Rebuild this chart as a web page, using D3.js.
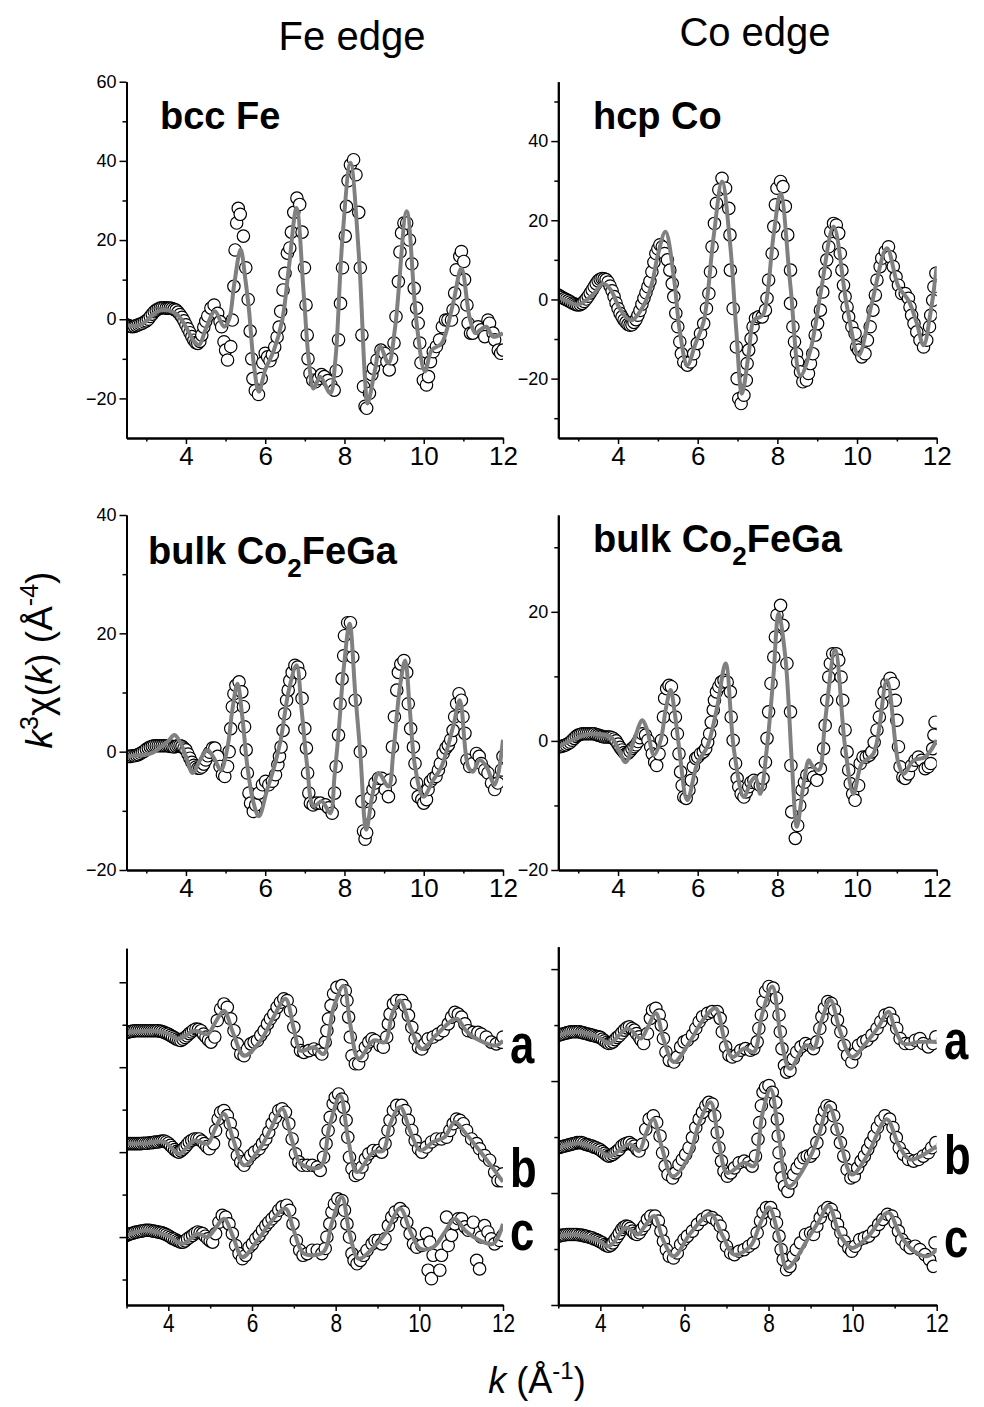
<!DOCTYPE html>
<html>
<head>
<meta charset="utf-8">
<script src="https://cdnjs.cloudflare.com/ajax/libs/d3/7.8.5/d3.min.js"></script>
<style>
  body { margin: 0; background: #fff; }
  svg text { font-family: 'Liberation Sans', Arial, sans-serif; fill: #000; }
</style>
</head>
<body>
<div id="canvas"></div>
<script>
// ---- tick values ----
var xMajorTicks = [4, 6, 8, 10, 12]
var xMinorTicks = [3, 5, 7, 9, 11]
var yMajorBcc = [-20, 0, 20, 40, 60]
var yMinorBcc = [-10, 10, 30, 50]
var yMajorHcp = [-20, 0, 20, 40]
var yMinorHcp = [-30, -10, 10, 30, 50]
var yMajorBulkFe = [-20, 0, 20, 40]
var yMinorBulkFe = [-10, 10, 30]
var yMajorBulkCo = [-20, 0, 20]
var yMinorBulkCo = [-10, 10, 30]
var yMajorStack = [0, 20, 40, 60]
var yMinorStackFe = [-10, 10, 30, 50]
var yMinorStackCo = [10, 30, 50]

// ---- Fe edge: bcc Fe (k, k3chi) ----
var bccFeData = [[2.50,-1.4],[2.55,-1.6],[2.60,-1.8],[2.65,-1.9],[2.70,-1.8],[2.75,-1.6],[2.80,-1.4],[2.85,-1.2],[2.90,-1.0],[2.95,-0.7],[3.00,-0.4],[3.05,0.0],[3.10,0.7],[3.15,1.3],[3.20,1.9],[3.25,2.3],[3.30,2.6],[3.35,2.8],[3.40,2.9],[3.45,2.9],[3.50,2.8],[3.55,2.8],[3.60,2.8],[3.65,2.7],[3.70,2.5],[3.75,2.3],[3.80,1.8],[3.85,1.2],[3.90,0.5],[3.95,-0.4],[4.00,-1.4],[4.05,-2.4],[4.10,-3.4],[4.15,-4.4],[4.20,-5.3],[4.25,-5.9],[4.30,-6.1],[4.35,-5.6],[4.40,-4.0],[4.45,-2.0],[4.50,-0.5],[4.55,0.8],[4.63,2.8],[4.71,3.6],[4.80,1.5],[4.86,-0.6],[4.90,-1.9],[4.96,-5.7],[5.00,-7.8],[5.05,-10.3],[5.13,-6.9],[5.17,-0.2],[5.21,8.3],[5.24,17.5],[5.28,24.3],[5.32,28.0],[5.37,26.5],[5.45,21.0],[5.51,13.0],[5.57,5.0],[5.62,-3.0],[5.66,-10.0],[5.69,-15.0],[5.75,-18.0],[5.83,-19.0],[5.90,-15.0],[5.94,-11.0],[6.00,-8.6],[6.06,-9.5],[6.12,-10.5],[6.18,-9.0],[6.24,-7.0],[6.30,-4.5],[6.35,-2.0],[6.39,2.0],[6.45,7.4],[6.50,11.6],[6.56,16.7],[6.62,18.0],[6.66,22.0],[6.72,27.0],[6.80,30.6],[6.87,29.0],[6.93,22.0],[6.99,13.0],[7.03,3.6],[7.06,-4.0],[7.08,-10.0],[7.13,-13.7],[7.20,-15.4],[7.27,-15.8],[7.35,-15.0],[7.42,-14.0],[7.49,-14.5],[7.58,-15.5],[7.66,-16.6],[7.74,-17.9],[7.79,-13.0],[7.85,-5.2],[7.90,4.0],[7.95,13.0],[8.02,21.0],[8.05,28.5],[8.09,35.0],[8.15,39.0],[8.23,40.3],[8.29,36.5],[8.36,27.0],[8.40,13.0],[8.44,-4.0],[8.48,-17.0],[8.52,-22.0],[8.56,-22.5],[8.63,-18.7],[8.69,-14.0],[8.73,-12.4],[8.82,-10.3],[8.92,-7.8],[9.01,-8.6],[9.07,-10.7],[9.13,-12.8],[9.19,-10.0],[9.25,-6.0],[9.30,0.7],[9.36,9.5],[9.40,17.0],[9.44,21.8],[9.50,24.3],[9.57,24.3],[9.64,20.0],[9.70,14.0],[9.76,7.8],[9.82,2.8],[9.86,-1.0],[9.90,-6.0],[9.93,-11.0],[9.99,-15.4],[10.07,-16.6],[10.12,-14.5],[10.17,-10.7],[10.24,-8.2],[10.32,-6.9],[10.40,-5.2],[10.47,-1.9],[10.55,-0.2],[10.61,-0.2],[10.70,-0.2],[10.74,2.4],[10.78,6.6],[10.82,12.5],[10.91,15.9],[10.95,17.1],[11.01,14.6],[11.03,10.0],[11.09,3.6],[11.12,-1.0],[11.18,-3.5],[11.24,-3.5],[11.37,-1.9],[11.45,-2.7],[11.54,-4.4],[11.62,-0.2],[11.66,-1.0],[11.75,-3.5],[11.79,-5.2],[11.88,-7.8],[11.94,-8.6],[12.00,-7.8]]
var bccFeFit = [[2.50,-1.5],[2.80,-1.6],[3.00,-0.5],[3.20,1.5],[3.40,2.3],[3.60,2.1],[3.80,1.0],[4.00,-2.0],[4.20,-5.5],[4.33,-6.5],[4.50,-2.5],[4.73,2.0],[4.96,-1.9],[5.09,0.0],[5.22,9.0],[5.38,17.6],[5.50,10.0],[5.59,2.4],[5.72,-12.0],[5.84,-18.3],[6.00,-12.8],[6.22,-7.8],[6.43,-0.2],[6.60,13.3],[6.79,28.1],[6.97,6.6],[7.10,-10.3],[7.22,-17.5],[7.39,-14.5],[7.64,-18.7],[7.77,-10.3],[7.94,19.2],[8.15,39.5],[8.36,16.7],[8.52,-15.4],[8.58,-21.3],[8.77,-12.8],[8.90,-6.9],[9.11,-11.1],[9.28,-1.9],[9.57,27.3],[9.82,-1.0],[10.03,-13.2],[10.20,-7.8],[10.45,-6.1],[10.74,4.0],[10.95,12.9],[11.16,0.3],[11.30,-3.5],[11.45,-2.5],[11.58,-1.9],[11.75,-4.4],[12.00,-3.5]]

// ---- Co edge: hcp Co ----
var hcpCoData = [[2.50,1.1],[2.55,0.8],[2.60,0.5],[2.65,0.2],[2.70,0.0],[2.75,-0.3],[2.80,-0.6],[2.85,-0.9],[2.90,-1.1],[2.95,-1.3],[3.00,-1.4],[3.05,-1.3],[3.10,-1.0],[3.15,-0.5],[3.20,0.1],[3.25,0.8],[3.30,1.6],[3.35,2.4],[3.40,3.2],[3.45,4.0],[3.50,4.7],[3.55,5.1],[3.60,5.3],[3.65,5.2],[3.70,5.0],[3.75,4.4],[3.80,3.4],[3.85,2.2],[3.90,0.7],[3.95,-0.9],[4.00,-2.3],[4.05,-3.5],[4.10,-4.4],[4.15,-5.2],[4.20,-5.8],[4.25,-6.3],[4.30,-6.5],[4.35,-6.4],[4.40,-5.8],[4.45,-5.1],[4.50,-4.0],[4.55,-2.8],[4.60,-1.2],[4.65,0.3],[4.70,1.7],[4.75,3.2],[4.80,4.6],[4.85,7.0],[4.90,9.4],[4.95,11.6],[5.00,12.8],[5.05,13.8],[5.11,13.3],[5.17,11.6],[5.24,10.0],[5.30,7.4],[5.36,4.0],[5.40,0.7],[5.45,-3.5],[5.50,-6.9],[5.55,-10.7],[5.59,-13.7],[5.65,-15.8],[5.74,-16.6],[5.82,-15.8],[5.90,-13.7],[5.99,-11.1],[6.07,-8.6],[6.15,-6.1],[6.22,-2.3],[6.28,1.5],[6.32,7.0],[6.36,13.3],[6.42,19.2],[6.47,24.3],[6.53,27.7],[6.61,30.6],[6.70,28.1],[6.78,23.0],[6.81,16.3],[6.82,7.4],[6.89,-2.3],[6.97,-12.0],[6.99,-20.0],[7.03,-25.1],[7.09,-26.3],[7.16,-24.2],[7.22,-20.4],[7.24,-16.2],[7.28,-12.8],[7.34,-9.9],[7.39,-6.9],[7.45,-4.8],[7.53,-4.4],[7.62,-4.4],[7.70,-2.7],[7.74,0.3],[7.78,4.9],[7.87,11.6],[7.91,18.4],[7.95,23.9],[7.99,28.1],[8.08,29.8],[8.14,28.5],[8.20,23.5],[8.26,16.3],[8.33,7.4],[8.33,-1.0],[8.39,-6.9],[8.43,-10.7],[8.48,-13.7],[8.51,-15.8],[8.58,-18.3],[8.64,-20.8],[8.73,-20.4],[8.78,-18.7],[8.83,-16.2],[8.89,-13.7],[8.95,-9.0],[9.01,-6.1],[9.08,-2.7],[9.14,1.9],[9.20,6.6],[9.24,10.0],[9.29,13.3],[9.34,17.1],[9.41,19.2],[9.48,18.8],[9.54,16.7],[9.58,11.6],[9.62,7.4],[9.66,3.6],[9.70,0.7],[9.75,-1.9],[9.79,-4.4],[9.87,-6.9],[9.95,-8.6],[9.99,-12.0],[10.04,-12.8],[10.12,-14.5],[10.20,-13.7],[10.26,-10.3],[10.33,-6.9],[10.40,-2.7],[10.46,1.1],[10.50,4.9],[10.58,8.3],[10.62,10.4],[10.71,12.1],[10.79,13.3],[10.83,10.8],[10.91,8.3],[10.98,5.7],[11.04,3.6],[11.12,1.5],[11.21,1.5],[11.29,0.3],[11.33,-1.9],[11.37,-4.0],[11.43,-6.1],[11.50,-8.2],[11.58,-10.3],[11.67,-12.0],[11.75,-10.3],[11.82,-6.9],[11.85,-4.0],[11.90,-0.2],[11.93,3.2],[11.98,6.6]]
var hcpCoFit = [[2.50,0.7],[2.75,-0.5],[2.98,-1.4],[3.20,-0.2],[3.40,1.5],[3.62,4.0],[3.82,2.4],[4.00,-1.5],[4.23,-4.8],[4.36,-5.2],[4.65,-1.4],[4.85,4.0],[4.99,10.8],[5.19,17.1],[5.40,5.7],[5.55,-8.0],[5.74,-16.6],[5.95,-11.0],[6.15,-5.6],[6.40,15.9],[6.61,29.8],[6.82,13.3],[6.97,-8.0],[7.11,-23.8],[7.28,-13.7],[7.41,-5.2],[7.57,-4.4],[7.66,-3.5],[7.91,16.7],[8.08,26.8],[8.33,3.2],[8.58,-19.2],[8.83,-12.8],[9.10,2.5],[9.41,18.4],[9.75,-1.9],[10.04,-14.1],[10.37,-1.0],[10.75,12.9],[11.04,3.2],[11.29,-0.2],[11.50,-6.0],[11.67,-11.6],[11.85,-3.0],[12.00,8.3]]

// ---- Fe edge: bulk Co2FeGa ----
var bulkFeData = [[2.50,-0.8],[2.55,-0.8],[2.60,-0.8],[2.65,-0.7],[2.70,-0.7],[2.75,-0.6],[2.80,-0.5],[2.85,-0.3],[2.90,-0.1],[2.95,0.1],[3.00,0.4],[3.05,0.6],[3.10,0.8],[3.15,0.9],[3.20,1.0],[3.25,1.0],[3.30,1.0],[3.35,1.0],[3.40,1.0],[3.45,1.0],[3.50,1.0],[3.55,1.0],[3.60,0.9],[3.65,0.9],[3.70,0.8],[3.75,0.9],[3.80,1.0],[3.85,1.0],[3.90,0.9],[3.95,0.6],[4.00,0.3],[4.05,-0.4],[4.10,-1.1],[4.15,-1.8],[4.20,-2.3],[4.25,-2.6],[4.30,-2.8],[4.35,-2.8],[4.40,-2.6],[4.45,-2.1],[4.50,-1.4],[4.55,-0.7],[4.60,-0.1],[4.67,0.6],[4.73,0.6],[4.80,-0.8],[4.86,-2.5],[4.92,-3.9],[4.98,-4.2],[5.05,-2.5],[5.09,0.0],[5.13,3.9],[5.17,7.6],[5.21,9.8],[5.26,11.2],[5.34,11.8],[5.41,10.1],[5.45,7.6],[5.48,4.2],[5.52,0.3],[5.55,-3.6],[5.59,-7.0],[5.63,-8.7],[5.70,-10.1],[5.76,-9.0],[5.84,-7.0],[5.93,-5.6],[6.01,-5.0],[6.09,-5.6],[6.18,-5.0],[6.26,-3.9],[6.32,-2.2],[6.36,-0.8],[6.40,0.8],[6.45,3.6],[6.49,6.4],[6.54,8.7],[6.58,10.4],[6.62,12.0],[6.68,13.4],[6.75,14.6],[6.82,14.3],[6.87,13.2],[6.93,9.0],[7.00,3.9],[7.04,0.6],[7.07,-3.6],[7.10,-7.0],[7.14,-8.7],[7.21,-9.0],[7.29,-8.7],[7.39,-8.7],[7.52,-9.0],[7.60,-9.5],[7.69,-10.4],[7.75,-7.0],[7.79,-2.5],[7.85,2.8],[7.89,8.1],[7.94,12.3],[7.98,16.2],[8.00,19.6],[8.08,21.8],[8.15,21.8],[8.21,16.0],[8.27,8.7],[8.40,0.0],[8.44,-8.4],[8.48,-13.4],[8.52,-14.8],[8.56,-13.7],[8.61,-10.4],[8.65,-7.8],[8.72,-6.4],[8.77,-5.3],[8.86,-4.5],[8.94,-4.5],[9.03,-6.4],[9.11,-7.6],[9.15,-4.8],[9.21,0.8],[9.26,5.9],[9.32,10.4],[9.36,13.4],[9.42,14.8],[9.50,15.4],[9.57,13.4],[9.61,8.1],[9.67,3.9],[9.74,0.8],[9.78,-2.0],[9.82,-5.3],[9.86,-7.6],[9.95,-8.1],[10.00,-8.7],[10.07,-8.1],[10.11,-6.4],[10.17,-5.0],[10.24,-4.5],[10.31,-4.2],[10.37,-3.1],[10.42,-2.0],[10.49,-0.3],[10.56,0.6],[10.62,1.1],[10.68,2.0],[10.74,3.6],[10.78,5.9],[10.83,8.1],[10.89,9.8],[10.95,8.7],[10.99,5.9],[11.04,3.1],[11.09,-1.4],[11.16,-2.5],[11.24,-2.0],[11.33,-0.3],[11.40,-0.8],[11.45,-2.0],[11.54,-3.1],[11.62,-3.6],[11.71,-5.3],[11.79,-6.4],[11.87,-5.3],[11.96,-3.1],[12.00,-0.8]]
var bulkFeFit = [[2.50,-0.8],[2.80,-0.6],[3.12,-0.3],[3.37,0.8],[3.55,1.8],[3.71,2.8],[3.87,1.4],[4.00,-0.8],[4.17,-3.6],[4.35,-1.5],[4.54,0.3],[4.70,-1.0],[4.88,-3.1],[5.05,0.8],[5.17,7.0],[5.30,11.5],[5.42,6.0],[5.55,-2.5],[5.70,-8.5],[5.84,-10.9],[6.05,-6.4],[6.25,-2.0],[6.39,2.0],[6.60,10.5],[6.79,14.6],[6.92,7.0],[7.06,-2.5],[7.22,-9.2],[7.43,-8.4],[7.64,-10.4],[7.75,-4.0],[7.85,3.1],[7.98,14.0],[8.13,21.6],[8.27,10.0],[8.40,-0.3],[8.55,-13.2],[8.70,-7.5],[8.86,-3.6],[9.11,-5.9],[9.23,-0.3],[9.40,11.0],[9.53,15.4],[9.65,7.0],[9.78,-2.5],[9.99,-7.6],[10.24,-4.8],[10.45,-2.5],[10.74,4.2],[10.91,8.7],[11.12,-2.5],[11.24,-3.4],[11.41,-1.4],[11.58,-2.5],[11.79,-5.6],[12.00,2.0]]

// ---- Co edge: bulk Co2FeGa ----
var bulkCoData = [[2.50,-0.9],[2.55,-0.9],[2.60,-0.8],[2.65,-0.7],[2.70,-0.6],[2.75,-0.4],[2.80,-0.2],[2.85,0.1],[2.90,0.4],[2.95,0.7],[3.00,0.9],[3.05,1.0],[3.10,1.1],[3.15,1.1],[3.20,1.1],[3.25,1.1],[3.30,1.1],[3.35,1.1],[3.40,1.1],[3.45,1.0],[3.50,0.9],[3.55,0.8],[3.60,0.7],[3.65,0.6],[3.70,0.6],[3.75,0.6],[3.80,0.6],[3.85,0.5],[3.90,0.3],[3.95,0.0],[4.00,-0.5],[4.05,-1.0],[4.10,-1.4],[4.15,-1.8],[4.20,-2.0],[4.25,-1.9],[4.30,-1.6],[4.35,-1.2],[4.40,-0.9],[4.45,-0.6],[4.50,-0.1],[4.55,0.5],[4.61,1.1],[4.69,0.9],[4.75,0.1],[4.82,-0.9],[4.86,-2.0],[4.92,-3.3],[4.97,-3.8],[5.03,-2.0],[5.09,0.1],[5.14,3.7],[5.17,6.6],[5.22,8.1],[5.28,8.6],[5.34,8.4],[5.40,6.3],[5.44,3.7],[5.49,1.1],[5.53,-2.0],[5.57,-4.8],[5.61,-6.9],[5.65,-8.7],[5.71,-8.9],[5.78,-7.6],[5.84,-6.1],[5.89,-4.0],[5.95,-2.7],[6.00,-2.5],[6.07,-2.0],[6.14,-1.7],[6.20,-1.2],[6.25,-0.2],[6.30,1.1],[6.34,2.9],[6.39,4.8],[6.42,6.3],[6.47,7.6],[6.53,8.4],[6.59,9.1],[6.66,9.4],[6.74,9.1],[6.82,7.6],[6.84,3.7],[6.89,0.1],[6.95,-3.5],[6.99,-5.8],[7.03,-7.1],[7.09,-8.2],[7.16,-8.7],[7.22,-7.9],[7.28,-7.1],[7.34,-6.4],[7.41,-6.1],[7.49,-6.6],[7.57,-6.9],[7.64,-5.8],[7.70,-3.3],[7.74,0.4],[7.78,4.5],[7.84,8.9],[7.91,13.0],[7.95,16.1],[7.99,19.5],[8.08,21.0],[8.14,17.9],[8.24,12.0],[8.33,4.5],[8.34,-3.8],[8.36,-11.0],[8.45,-15.1],[8.51,-13.1],[8.56,-10.0],[8.62,-7.6],[8.68,-6.4],[8.74,-5.3],[8.83,-5.1],[8.91,-5.6],[8.99,-6.1],[9.08,-4.3],[9.16,-1.2],[9.20,2.4],[9.24,6.3],[9.29,9.9],[9.33,12.0],[9.39,13.5],[9.48,13.5],[9.54,12.5],[9.60,9.9],[9.64,6.3],[9.70,1.7],[9.75,-1.7],[9.79,-4.5],[9.83,-6.6],[9.89,-8.2],[9.95,-9.2],[10.04,-6.9],[10.08,-3.5],[10.15,-2.5],[10.23,-2.5],[10.31,-2.2],[10.37,-1.7],[10.43,-0.2],[10.50,1.7],[10.56,3.7],[10.62,5.8],[10.68,7.6],[10.75,8.9],[10.83,9.7],[10.91,8.9],[10.96,6.3],[11.00,3.2],[11.04,-0.9],[11.08,-4.0],[11.15,-5.6],[11.21,-5.8],[11.29,-5.1],[11.37,-3.8],[11.46,-3.0],[11.54,-2.5],[11.62,-3.0],[11.71,-4.3],[11.79,-4.0],[11.85,-3.5],[11.90,-1.2],[11.93,0.9],[11.96,2.9]]
var bulkCoFit = [[2.50,-0.9],[3.02,0.6],[3.36,1.1],[3.82,0.6],[3.98,-0.9],[4.19,-3.3],[4.40,0.1],[4.61,3.2],[4.73,1.7],[4.90,-2.2],[5.07,0.1],[5.20,5.0],[5.32,7.9],[5.42,4.5],[5.53,-0.9],[5.74,-9.2],[5.99,-3.5],[6.24,-0.9],[6.49,5.3],[6.70,12.0],[6.91,-1.4],[7.16,-8.7],[7.33,-6.4],[7.45,-5.6],[7.57,-8.2],[7.74,-0.9],[7.90,10.0],[8.03,19.7],[8.20,13.0],[8.37,-4.0],[8.49,-13.3],[8.66,-6.6],[8.79,-3.0],[8.87,-3.8],[9.04,-4.5],[9.20,3.2],[9.45,14.1],[9.70,-0.9],[9.91,-8.2],[10.12,-3.5],[10.41,-2.0],[10.75,9.4],[11.04,-3.5],[11.17,-5.1],[11.42,-3.0],[11.71,-2.5],[12.00,0.1]]

// ---- Fe edge: samples a, b, c (arbitrary units, before offset) ----
var feAData = [[3.00,0.2],[3.05,0.3],[3.10,0.4],[3.15,0.5],[3.20,0.6],[3.25,0.6],[3.30,0.6],[3.35,0.6],[3.40,0.6],[3.45,0.6],[3.50,0.6],[3.55,0.6],[3.60,0.6],[3.65,0.6],[3.70,0.6],[3.75,0.6],[3.80,0.5],[3.85,0.4],[3.90,0.2],[3.95,0.0],[4.00,-0.2],[4.05,-0.5],[4.10,-0.8],[4.15,-1.1],[4.20,-1.4],[4.25,-1.6],[4.30,-1.7],[4.35,-1.4],[4.40,-1.0],[4.45,-0.6],[4.50,-0.1],[4.55,0.3],[4.60,0.7],[4.66,1.0],[4.72,0.9],[4.78,0.6],[4.84,-0.2],[4.90,-0.9],[4.96,-1.6],[5.02,-2.1],[5.11,-0.9],[5.17,3.0],[5.25,5.7],[5.33,6.9],[5.41,6.1],[5.49,3.4],[5.57,0.6],[5.65,-2.5],[5.73,-4.9],[5.81,-5.3],[5.89,-3.7],[5.97,-2.5],[6.05,-2.1],[6.13,-1.7],[6.21,-0.5],[6.29,0.6],[6.37,2.2],[6.44,3.4],[6.52,4.5],[6.60,6.1],[6.68,7.3],[6.76,8.1],[6.84,7.7],[6.92,5.3],[7.00,1.4],[7.08,-2.1],[7.16,-4.1],[7.24,-4.5],[7.36,-4.1],[7.48,-3.7],[7.60,-4.1],[7.67,-4.9],[7.75,-2.1],[7.79,0.6],[7.83,3.4],[7.89,6.5],[7.95,9.3],[8.03,10.8],[8.15,11.2],[8.23,10.0],[8.27,7.7],[8.31,3.8],[8.35,-0.9],[8.39,-5.3],[8.47,-7.2],[8.55,-7.2],[8.63,-5.3],[8.71,-3.3],[8.79,-2.1],[8.87,-1.3],[8.94,-1.7],[9.06,-2.9],[9.14,-3.3],[9.22,-0.9],[9.26,2.2],[9.30,4.5],[9.38,6.9],[9.46,7.7],[9.58,7.7],[9.66,6.5],[9.74,4.2],[9.82,1.4],[9.90,-1.3],[9.98,-3.3],[10.06,-3.7],[10.13,-2.5],[10.21,-1.3],[10.33,-0.9],[10.45,-0.2],[10.57,0.6],[10.69,2.2],[10.77,3.8],[10.85,4.9],[10.93,4.5],[11.01,3.8],[11.09,2.2],[11.17,0.6],[11.29,0.2],[11.40,0.2],[11.48,-0.2],[11.60,-0.9],[11.72,-2.1],[11.84,-2.5],[11.96,-2.1],[12.00,-0.9]]
var feAFit = [[3.00,0.2],[3.50,0.5],[3.90,0.2],[4.26,-1.3],[4.62,0.6],[4.94,-0.2],[5.12,2.5],[5.33,5.3],[5.55,0.0],[5.81,-5.3],[6.21,-1.7],[6.50,3.5],[6.80,8.1],[7.00,1.0],[7.16,-4.1],[7.48,-3.3],[7.71,-4.9],[7.95,6.0],[8.19,11.2],[8.35,2.0],[8.55,-6.0],[8.91,-1.7],[9.18,-2.1],[9.35,4.5],[9.54,7.7],[9.80,1.0],[10.06,-3.7],[10.40,-0.5],[10.89,3.4],[11.10,0.8],[11.29,-0.9],[11.84,-2.9],[12.00,-1.7]]
var feBData = [[3.00,0.0],[3.05,0.0],[3.10,0.0],[3.15,0.0],[3.20,0.0],[3.25,0.0],[3.30,0.0],[3.35,0.0],[3.40,0.1],[3.45,0.1],[3.50,0.1],[3.55,0.2],[3.60,0.2],[3.65,0.3],[3.70,0.4],[3.75,0.4],[3.80,0.5],[3.85,0.6],[3.90,0.6],[3.95,0.4],[4.00,0.1],[4.05,-0.4],[4.10,-0.9],[4.15,-1.4],[4.20,-1.8],[4.25,-2.0],[4.30,-1.7],[4.35,-1.3],[4.40,-0.8],[4.45,-0.2],[4.50,0.4],[4.56,0.8],[4.62,1.1],[4.68,1.1],[4.74,1.1],[4.80,0.6],[4.86,0.0],[4.92,-0.7],[4.98,-1.2],[5.08,0.0],[5.13,3.1],[5.19,5.8],[5.25,7.4],[5.33,7.8],[5.41,6.6],[5.48,4.7],[5.53,2.3],[5.59,0.0],[5.65,-2.8],[5.73,-4.3],[5.81,-5.1],[5.89,-3.9],[5.97,-2.8],[6.06,-2.0],[6.17,-1.2],[6.25,0.0],[6.33,1.1],[6.40,2.7],[6.48,4.7],[6.56,6.2],[6.64,7.8],[6.72,8.2],[6.80,7.4],[6.88,4.7],[6.96,1.1],[7.04,-2.4],[7.12,-4.3],[7.20,-5.1],[7.32,-5.1],[7.44,-5.1],[7.56,-5.5],[7.63,-6.3],[7.71,-3.2],[7.77,0.0],[7.82,3.1],[7.87,6.2],[7.94,9.4],[7.99,10.9],[8.07,11.7],[8.15,10.5],[8.19,8.6],[8.25,5.5],[8.29,1.5],[8.33,-3.2],[8.39,-5.9],[8.47,-7.5],[8.55,-7.1],[8.63,-5.5],[8.71,-3.6],[8.79,-2.4],[8.90,-1.6],[9.02,-1.6],[9.10,-2.0],[9.18,0.0],[9.25,3.1],[9.30,5.5],[9.38,7.8],[9.46,9.0],[9.58,9.0],[9.66,7.8],[9.74,5.5],[9.82,3.1],[9.90,0.7],[9.98,-1.2],[10.06,-2.0],[10.17,-0.8],[10.29,0.4],[10.41,1.1],[10.53,1.1],[10.65,1.5],[10.73,3.1],[10.81,4.7],[10.89,5.8],[10.97,5.5],[11.05,4.7],[11.13,3.1],[11.25,1.1],[11.37,0.0],[11.44,-1.2],[11.56,-2.8],[11.68,-3.9],[11.80,-6.7],[11.88,-8.7],[11.96,-8.7],[12.00,-7.1]]
var feBFit = [[3.00,0.0],[3.50,0.1],[3.90,0.4],[4.26,-2.4],[4.62,0.7],[4.94,0.0],[5.12,3.5],[5.33,7.0],[5.55,1.0],[5.81,-5.1],[6.21,-0.8],[6.45,3.5],[6.72,8.2],[6.95,1.0],[7.16,-4.7],[7.63,-5.5],[7.85,4.0],[8.11,11.3],[8.30,1.0],[8.51,-6.7],[8.90,-2.0],[9.14,-1.6],[9.30,4.5],[9.54,8.6],[9.80,2.5],[10.02,-1.6],[10.33,0.4],[10.60,1.5],[10.85,5.1],[11.10,2.5],[11.37,-0.8],[11.70,-5.0],[12.00,-9.0]]
var feCData = [[3.00,0.4],[3.05,0.6],[3.10,0.8],[3.15,0.9],[3.20,1.1],[3.25,1.2],[3.30,1.3],[3.35,1.4],[3.40,1.5],[3.45,1.6],[3.50,1.6],[3.55,1.6],[3.60,1.5],[3.65,1.4],[3.70,1.3],[3.75,1.2],[3.80,1.1],[3.85,1.0],[3.90,0.8],[3.95,0.6],[4.00,0.3],[4.05,0.0],[4.10,-0.3],[4.15,-0.5],[4.20,-0.8],[4.25,-1.0],[4.30,-1.2],[4.35,-1.2],[4.40,-0.9],[4.46,-0.4],[4.52,0.0],[4.58,0.4],[4.64,0.9],[4.70,1.2],[4.76,1.0],[4.82,0.8],[4.88,0.2],[4.94,-0.4],[5.00,-0.9],[5.06,-1.2],[5.13,0.8],[5.21,3.5],[5.29,5.1],[5.37,4.7],[5.45,3.1],[5.53,0.8],[5.61,-2.0],[5.69,-3.9],[5.77,-5.1],[5.85,-4.3],[5.93,-2.4],[6.01,-1.6],[6.09,-0.4],[6.17,0.4],[6.25,1.6],[6.33,2.7],[6.40,3.5],[6.48,4.3],[6.56,5.1],[6.64,6.3],[6.72,7.1],[6.83,7.5],[6.90,6.3],[6.98,3.1],[7.06,-0.8],[7.14,-3.1],[7.22,-4.3],[7.32,-3.9],[7.44,-3.1],[7.56,-3.1],[7.67,-3.9],[7.75,-2.7],[7.79,0.0],[7.86,3.1],[7.91,5.9],[7.97,7.8],[8.05,9.0],[8.15,8.6],[8.21,6.3],[8.27,3.1],[8.33,0.0],[8.39,-3.9],[8.44,-5.5],[8.51,-6.3],[8.59,-5.5],[8.67,-4.3],[8.75,-3.1],[8.87,-1.6],[8.94,-0.8],[9.02,-0.8],[9.10,-1.6],[9.18,-0.4],[9.26,2.7],[9.34,4.7],[9.42,5.9],[9.54,6.7],[9.62,5.9],[9.70,3.5],[9.78,0.8],[9.86,-1.6],[9.94,-2.4],[10.06,-2.0],[10.17,0.8],[10.21,-7.8],[10.25,-1.2],[10.29,-9.8],[10.33,-4.3],[10.49,-7.8],[10.53,-4.3],[10.65,4.7],[10.69,-2.0],[10.77,0.4],[10.85,3.1],[10.93,4.3],[11.01,4.3],[11.09,2.4],[11.17,1.6],[11.29,3.5],[11.37,-5.5],[11.44,-7.5],[11.48,0.0],[11.56,2.7],[11.64,1.2],[11.72,-0.4],[11.80,-1.6],[11.92,-0.8],[12.00,0.4]]
var feCFit = [[3.00,0.4],[3.51,1.6],[4.00,0.2],[4.34,-1.6],[4.70,0.8],[4.94,0.0],[5.12,2.0],[5.33,4.3],[5.55,0.0],[5.77,-4.7],[6.13,-0.8],[6.45,3.5],[6.80,6.7],[7.00,1.5],[7.24,-3.9],[7.71,-3.5],[7.90,3.0],[8.15,9.4],[8.33,1.0],[8.55,-5.1],[8.98,-1.6],[9.20,1.0],[9.54,6.7],[9.80,1.0],[10.02,-2.7],[10.33,-2.4],[10.60,1.0],[10.85,4.3],[11.10,1.5],[11.37,-0.4],[11.76,-1.6],[12.00,3.1]]

// ---- Co edge: samples a, b, c ----
var coAData = [[3.00,0.2],[3.05,0.3],[3.10,0.4],[3.15,0.5],[3.20,0.6],[3.25,0.7],[3.30,0.8],[3.35,0.8],[3.40,0.8],[3.45,0.8],[3.50,0.8],[3.55,0.7],[3.60,0.6],[3.65,0.5],[3.70,0.4],[3.75,0.3],[3.80,0.2],[3.85,0.1],[3.90,0.0],[3.95,-0.1],[4.00,-0.2],[4.05,-0.5],[4.10,-0.8],[4.15,-1.1],[4.20,-1.3],[4.25,-1.2],[4.30,-1.0],[4.35,-0.6],[4.40,-0.2],[4.45,0.1],[4.51,0.6],[4.57,1.1],[4.63,1.5],[4.69,1.7],[4.75,1.4],[4.81,1.1],[4.86,0.5],[4.92,-0.1],[4.97,-0.7],[5.03,-1.3],[5.12,0.5],[5.19,3.2],[5.24,4.7],[5.32,5.0],[5.40,3.8],[5.45,2.0],[5.50,-0.4],[5.56,-2.8],[5.64,-4.3],[5.75,-4.6],[5.83,-3.7],[5.91,-1.9],[5.99,-1.0],[6.07,-0.7],[6.19,0.2],[6.27,1.4],[6.35,2.6],[6.43,3.5],[6.55,4.1],[6.66,4.4],[6.78,4.4],[6.85,3.2],[6.90,0.8],[6.98,-1.9],[7.06,-3.4],[7.14,-3.7],[7.24,-3.4],[7.34,-2.5],[7.45,-2.2],[7.57,-2.5],[7.65,-2.2],[7.73,-1.0],[7.77,1.4],[7.83,3.8],[7.87,6.2],[7.93,8.0],[8.01,8.9],[8.11,8.6],[8.19,6.8],[8.25,3.8],[8.28,0.8],[8.32,-2.2],[8.38,-5.2],[8.43,-6.4],[8.51,-6.1],[8.59,-4.0],[8.67,-2.8],[8.77,-1.9],[8.88,-1.3],[8.98,-1.6],[9.07,-2.2],[9.15,-1.0],[9.22,1.4],[9.27,3.5],[9.33,5.0],[9.41,6.2],[9.49,5.9],[9.57,4.7],[9.64,2.9],[9.72,0.8],[9.80,-1.6],[9.88,-3.4],[9.98,-4.6],[10.06,-3.1],[10.14,-1.6],[10.25,-1.0],[10.34,-0.7],[10.46,0.2],[10.58,1.4],[10.67,2.6],[10.77,3.8],[10.88,4.1],[10.97,2.9],[11.05,1.4],[11.13,-0.4],[11.25,-1.3],[11.37,-1.3],[11.49,-0.7],[11.60,-0.4],[11.68,-1.3],[11.80,-1.9],[11.91,-1.3],[11.98,-0.1]]
var coAFit = [[3.00,0.2],[3.45,0.8],[3.94,-0.1],[4.21,-1.3],[4.65,1.4],[4.96,-0.4],[5.12,1.5],[5.32,4.1],[5.50,-0.5],[5.75,-4.6],[6.15,-0.7],[6.45,3.0],[6.74,5.0],[6.95,-0.5],[7.14,-3.7],[7.42,-2.2],[7.65,-2.8],[7.85,4.0],[8.09,8.9],[8.30,-0.5],[8.51,-5.8],[8.88,-1.6],[9.07,-2.2],[9.25,2.5],[9.47,6.5],[9.70,1.0],[9.98,-3.7],[10.34,-1.0],[10.60,1.5],[10.85,4.4],[11.00,1.5],[11.21,-1.3],[11.60,-1.0],[12.00,-1.0]]
var coBData = [[3.00,0.1],[3.05,0.2],[3.10,0.3],[3.15,0.4],[3.20,0.5],[3.25,0.6],[3.30,0.7],[3.35,0.8],[3.40,0.9],[3.45,1.0],[3.50,1.0],[3.55,1.0],[3.60,0.9],[3.65,0.7],[3.70,0.6],[3.75,0.5],[3.80,0.4],[3.85,0.2],[3.90,0.1],[3.95,-0.1],[4.00,-0.3],[4.05,-0.6],[4.10,-0.9],[4.15,-1.2],[4.20,-1.4],[4.25,-1.3],[4.30,-1.1],[4.35,-0.8],[4.40,-0.5],[4.45,-0.2],[4.51,0.4],[4.57,0.7],[4.63,0.9],[4.69,1.0],[4.75,0.7],[4.81,0.4],[4.87,-0.2],[4.92,-0.5],[5.00,0.7],[5.08,3.4],[5.16,5.2],[5.26,5.8],[5.34,4.6],[5.42,2.2],[5.48,-0.8],[5.54,-3.2],[5.61,-4.7],[5.72,-5.3],[5.79,-4.4],[5.87,-2.9],[5.95,-2.0],[6.03,-1.1],[6.11,0.1],[6.19,1.9],[6.27,3.7],[6.35,5.2],[6.43,6.4],[6.51,7.6],[6.58,8.2],[6.66,7.9],[6.72,5.8],[6.78,2.8],[6.82,0.1],[6.88,-2.3],[6.94,-4.1],[7.02,-5.0],[7.10,-4.4],[7.19,-3.5],[7.30,-2.6],[7.42,-2.3],[7.53,-2.6],[7.61,-3.2],[7.69,-1.4],[7.75,1.6],[7.79,4.6],[7.83,7.6],[7.87,10.0],[7.93,10.9],[8.01,11.2],[8.09,10.0],[8.17,8.2],[8.21,5.2],[8.23,2.2],[8.25,-0.8],[8.28,-3.5],[8.32,-5.3],[8.38,-6.8],[8.46,-7.7],[8.54,-6.2],[8.60,-4.7],[8.68,-3.5],[8.76,-2.6],[8.84,-1.7],[8.92,-1.4],[9.00,-1.4],[9.07,-0.8],[9.15,1.0],[9.22,3.4],[9.27,5.2],[9.33,6.7],[9.39,7.6],[9.47,7.3],[9.55,5.8],[9.63,3.4],[9.71,1.0],[9.79,-1.4],[9.87,-3.8],[9.96,-5.3],[10.04,-5.0],[10.12,-3.5],[10.20,-2.3],[10.28,-1.4],[10.36,-0.2],[10.43,1.0],[10.51,2.2],[10.59,3.7],[10.67,4.9],[10.77,5.8],[10.88,5.2],[10.96,3.7],[11.04,1.9],[11.11,0.1],[11.21,-1.1],[11.33,-2.0],[11.45,-2.3],[11.57,-2.0],[11.68,-1.4],[11.80,-0.8],[11.88,0.1],[11.98,1.0]]
var coBFit = [[3.00,0.1],[3.50,0.9],[3.95,-0.2],[4.21,-1.4],[4.69,0.7],[4.92,-0.5],[5.08,2.5],[5.26,5.2],[5.45,0.5],[5.72,-5.0],[6.11,-1.4],[6.35,4.5],[6.62,8.2],[6.82,1.0],[7.02,-4.4],[7.42,-2.6],[7.65,-3.2],[7.85,6.0],[8.05,10.6],[8.25,2.0],[8.48,-6.8],[9.00,-1.4],[9.20,2.5],[9.43,7.6],[9.70,1.5],[9.98,-4.7],[10.34,-1.4],[10.81,5.2],[11.10,0.5],[11.37,-2.0],[12.00,0.4]]
var coCData = [[3.00,0.3],[3.05,0.4],[3.10,0.5],[3.15,0.5],[3.20,0.6],[3.25,0.6],[3.30,0.6],[3.35,0.6],[3.40,0.6],[3.45,0.6],[3.50,0.5],[3.55,0.5],[3.60,0.4],[3.65,0.3],[3.70,0.2],[3.75,0.1],[3.80,0.0],[3.85,-0.2],[3.90,-0.3],[3.95,-0.5],[4.00,-0.7],[4.05,-0.9],[4.10,-1.2],[4.15,-1.4],[4.20,-1.5],[4.25,-1.3],[4.30,-0.9],[4.35,-0.3],[4.40,0.2],[4.45,0.8],[4.51,1.5],[4.56,1.9],[4.61,2.1],[4.66,2.0],[4.71,1.7],[4.76,1.2],[4.81,0.8],[4.87,0.6],[4.93,0.9],[4.99,1.6],[5.05,2.2],[5.12,3.3],[5.20,3.9],[5.30,3.9],[5.38,3.0],[5.44,1.2],[5.50,-0.6],[5.57,-2.1],[5.64,-3.3],[5.74,-3.6],[5.83,-2.7],[5.91,-1.2],[5.99,-0.3],[6.07,0.3],[6.19,1.2],[6.31,2.4],[6.43,3.3],[6.55,3.9],[6.66,3.6],[6.77,3.0],[6.85,2.1],[6.92,0.3],[7.00,-1.5],[7.10,-2.7],[7.19,-3.0],[7.30,-2.4],[7.42,-2.1],[7.53,-1.5],[7.64,-0.9],[7.73,0.9],[7.81,3.0],[7.87,4.5],[7.95,5.4],[8.05,5.4],[8.13,4.2],[8.19,2.7],[8.25,0.3],[8.30,-2.1],[8.35,-3.9],[8.43,-5.7],[8.51,-5.1],[8.59,-3.3],[8.66,-2.1],[8.76,-0.9],[8.88,0.6],[9.00,0.9],[9.07,0.6],[9.15,2.1],[9.23,3.6],[9.31,4.8],[9.41,5.4],[9.49,5.1],[9.57,3.9],[9.64,2.4],[9.72,0.9],[9.80,-0.6],[9.91,-1.8],[9.98,-2.4],[10.06,-1.5],[10.17,-0.3],[10.28,0.0],[10.38,0.3],[10.50,1.2],[10.62,2.4],[10.72,3.3],[10.83,4.2],[10.93,3.9],[11.01,2.7],[11.09,1.2],[11.17,-0.3],[11.27,-1.2],[11.37,-1.8],[11.49,-1.5],[11.60,-2.1],[11.72,-3.0],[11.83,-3.9],[11.92,-5.1],[11.96,-0.9]]
var coCFit = [[3.00,0.3],[3.34,0.6],[3.90,-0.3],[4.21,-1.5],[4.61,1.8],[4.89,0.6],[5.05,2.0],[5.28,3.9],[5.50,-0.5],[5.75,-3.3],[6.15,0.9],[6.62,4.2],[6.90,0.5],[7.18,-3.0],[7.57,-1.5],[7.80,2.5],[8.01,5.4],[8.25,0.0],[8.44,-5.4],[9.00,0.6],[9.20,3.0],[9.43,5.7],[9.70,0.5],[9.98,-1.8],[10.34,0.0],[10.85,4.5],[11.10,1.0],[11.37,-1.8],[11.76,-3.3],[12.00,-2.1]]

var stackNames = ['a', 'b', 'c']
var feOffsets = [48, 22, 0]
var coOffsets = [48, 28, 12]
var feLabelY = [40.9, 11.7, -3.1]
var coLabelY = [44.0, 23.4, 8.6]

// ---- layout ----
var panels = [
  { left: 126.5, right: 503, top: 81.7, bottom: 438, kDomain: [2.5, 12], yDomain: [-30, 60],
    yMajor: yMajorBcc, yMinor: yMinorBcc, showY: true,
    series: [{ data: bccFeData, fit: bccFeFit, offset: 0 }],
    title: { parts: [['bcc Fe']], x: 160, y: 142 } },
  { left: 558.3, right: 936.7, top: 81.7, bottom: 438, kDomain: [2.5, 12], yDomain: [-35, 55],
    yMajor: yMajorHcp, yMinor: yMinorHcp, showY: true,
    series: [{ data: hcpCoData, fit: hcpCoFit, offset: 0 }],
    title: { parts: [['hcp Co']], x: 593, y: 142 } },
  { left: 126.5, right: 503, top: 515, bottom: 870, kDomain: [2.5, 12], yDomain: [-20, 40],
    yMajor: yMajorBulkFe, yMinor: yMinorBulkFe, showY: true,
    series: [{ data: bulkFeData, fit: bulkFeFit, offset: 0 }],
    title: { parts: [['bulk Co'], ['2', 'sub'], ['FeGa']], x: 148, y: 577 } },
  { left: 558.3, right: 936.7, top: 515, bottom: 870, kDomain: [2.5, 12], yDomain: [-20, 35],
    yMajor: yMajorBulkCo, yMinor: yMinorBulkCo, showY: true,
    series: [{ data: bulkCoData, fit: bulkCoFit, offset: 0 }],
    title: { parts: [['bulk Co'], ['2', 'sub'], ['FeGa']], x: 593, y: 565 } },
  { left: 126.5, right: 503, top: 948.3, bottom: 1305, kDomain: [3, 12], yDomain: [-16, 68],
    yMajor: yMajorStack, yMinor: yMinorStackFe, showY: false, narrowX: true,
    series: [{ data: feAData, fit: feAFit, offset: feOffsets[0] },
             { data: feBData, fit: feBFit, offset: feOffsets[1] },
             { data: feCData, fit: feCFit, offset: feOffsets[2] }],
    labels: feLabelY, labelX: 510 },
  { left: 558.3, right: 936.7, top: 946.7, bottom: 1305, kDomain: [3, 12], yDomain: [0, 64],
    yMajor: yMajorStack, yMinor: yMinorStackCo, showY: false, narrowX: true,
    series: [{ data: coAData, fit: coAFit, offset: coOffsets[0] },
             { data: coBData, fit: coBFit, offset: coOffsets[1] },
             { data: coCData, fit: coCFit, offset: coOffsets[2] }],
    labels: coLabelY, labelX: 944 }
]

var svg = d3.select('#canvas').append('svg')
  .attr('width', 984).attr('height', 1407)
  .style('display', 'block')

var styleAxis = function (g) {
  g.select('.domain').attr('stroke', '#000').attr('stroke-width', 2)
  g.selectAll('.tick line').attr('stroke', '#000').attr('stroke-width', 1.5)
  g.attr('font-family', "'Liberation Sans', Arial, sans-serif")
}

panels.forEach(function (p, pi) {
  var x = d3.scaleLinear().domain(p.kDomain).range([p.left, p.right])
  var y = d3.scaleLinear().domain(p.yDomain).range([p.bottom, p.top])
  var g = svg.append('g')

  svg.append('clipPath').attr('id', 'clip' + pi)
    .append('rect')
    .attr('x', p.left).attr('y', p.top - 12)
    .attr('width', p.right - p.left).attr('height', p.bottom - p.top + 12)

  var plot = g.append('g').attr('clip-path', 'url(#clip' + pi + ')')
  var line = d3.line()
    .x(function (d) { return x(d[0]) })
    .curve(d3.curveCatmullRom.alpha(0.5))

  p.series.forEach(function (s) {
    plot.append('g').selectAll('circle')
      .data(s.data)
      .enter().append('circle')
      .attr('cx', function (d) { return x(d[0]) })
      .attr('cy', function (d) { return y(d[1] + s.offset) })
      .attr('r', 6.2)
      .attr('fill', '#fff')
      .attr('stroke', '#000')
      .attr('stroke-width', 1.2)
    plot.append('path')
      .datum(s.fit)
      .attr('d', line.y(function (d) { return y(d[1] + s.offset) }))
      .attr('fill', 'none')
      .attr('stroke', '#808080')
      .attr('stroke-width', 4)
      .attr('stroke-linejoin', 'round')
  })

  // x axis
  var xMin = g.append('g').attr('transform', 'translate(0,' + p.bottom + ')')
    .call(d3.axisBottom(x).tickValues(xMinorTicks).tickSize(3.5).tickSizeOuter(0).tickFormat(''))
  styleAxis(xMin)
  var xMaj = g.append('g').attr('transform', 'translate(0,' + p.bottom + ')')
    .call(d3.axisBottom(x).tickValues(xMajorTicks).tickSize(6).tickSizeOuter(0).tickPadding(3))
  styleAxis(xMaj)
  xMaj.selectAll('text').attr('font-size', 26)
  if (p.narrowX) xMaj.selectAll('text').attr('transform', 'scale(0.8,1)')

  // y axis
  var yMin = g.append('g').attr('transform', 'translate(' + p.left + ',0)')
    .call(d3.axisLeft(y).tickValues(p.yMinor).tickSize(4).tickSizeOuter(0).tickFormat(''))
  styleAxis(yMin)
  var yMaj = g.append('g').attr('transform', 'translate(' + p.left + ',0)')
    .call(d3.axisLeft(y).tickValues(p.yMajor).tickSize(7).tickSizeOuter(0).tickPadding(3)
      .tickFormat(p.showY ? d3.format('d') : ''))
  styleAxis(yMaj)
  yMaj.selectAll('text').attr('font-size', 18)

  // panel title
  if (p.title) {
    var t = g.append('text').attr('x', p.title.x).attr('y', p.title.y)
      .attr('font-size', 38).attr('font-weight', 'bold')
    p.title.parts.forEach(function (part) {
      if (part[1] === 'sub') {
        t.append('tspan').attr('dy', 13).attr('font-size', 26).text(part[0])
      } else {
        t.append('tspan').attr('dy', t.selectAll('tspan').size() ? -13 : 0).text(part[0])
      }
    })
  }

  // stack labels (tall, narrow bold letters)
  if (p.labels) {
    g.selectAll('text.stack')
      .data(stackNames)
      .enter().append('text')
      .attr('class', 'stack')
      .attr('transform', function (d, i) {
        return 'translate(' + p.labelX + ',' + y(p.labels[i]) + ') scale(0.78,1)'
      })
      .attr('font-size', 56).attr('font-weight', 'bold')
      .text(function (d) { return d })
  }
})

// column headings
svg.append('text').attr('x', 352).attr('y', 50).attr('text-anchor', 'middle')
  .attr('font-size', 40).text('Fe edge')
svg.append('text').attr('x', 755).attr('y', 46).attr('text-anchor', 'middle')
  .attr('font-size', 40).text('Co edge')

// y axis title
var yt = svg.append('text').attr('transform', 'translate(52,660) rotate(-90)')
  .attr('text-anchor', 'middle').attr('font-size', 37)
yt.append('tspan').attr('font-style', 'italic').text('k')
yt.append('tspan').attr('dy', -14).attr('font-size', 25).text('3')
yt.append('tspan').attr('dy', 14).text('\u03c7(')
yt.append('tspan').attr('font-style', 'italic').text('k')
yt.append('tspan').text(') (\u00c5')
yt.append('tspan').attr('dy', -14).attr('font-size', 25).text('-4')
yt.append('tspan').attr('dy', 14).text(')')

// x axis title
var xt = svg.append('text').attr('x', 537).attr('y', 1393).attr('text-anchor', 'middle')
  .attr('font-size', 36)
xt.append('tspan').attr('font-style', 'italic').text('k')
xt.append('tspan').text(' (\u00c5')
xt.append('tspan').attr('dy', -14).attr('font-size', 24).text('-1')
xt.append('tspan').attr('dy', 14).text(')')
</script>
</body>
</html>
